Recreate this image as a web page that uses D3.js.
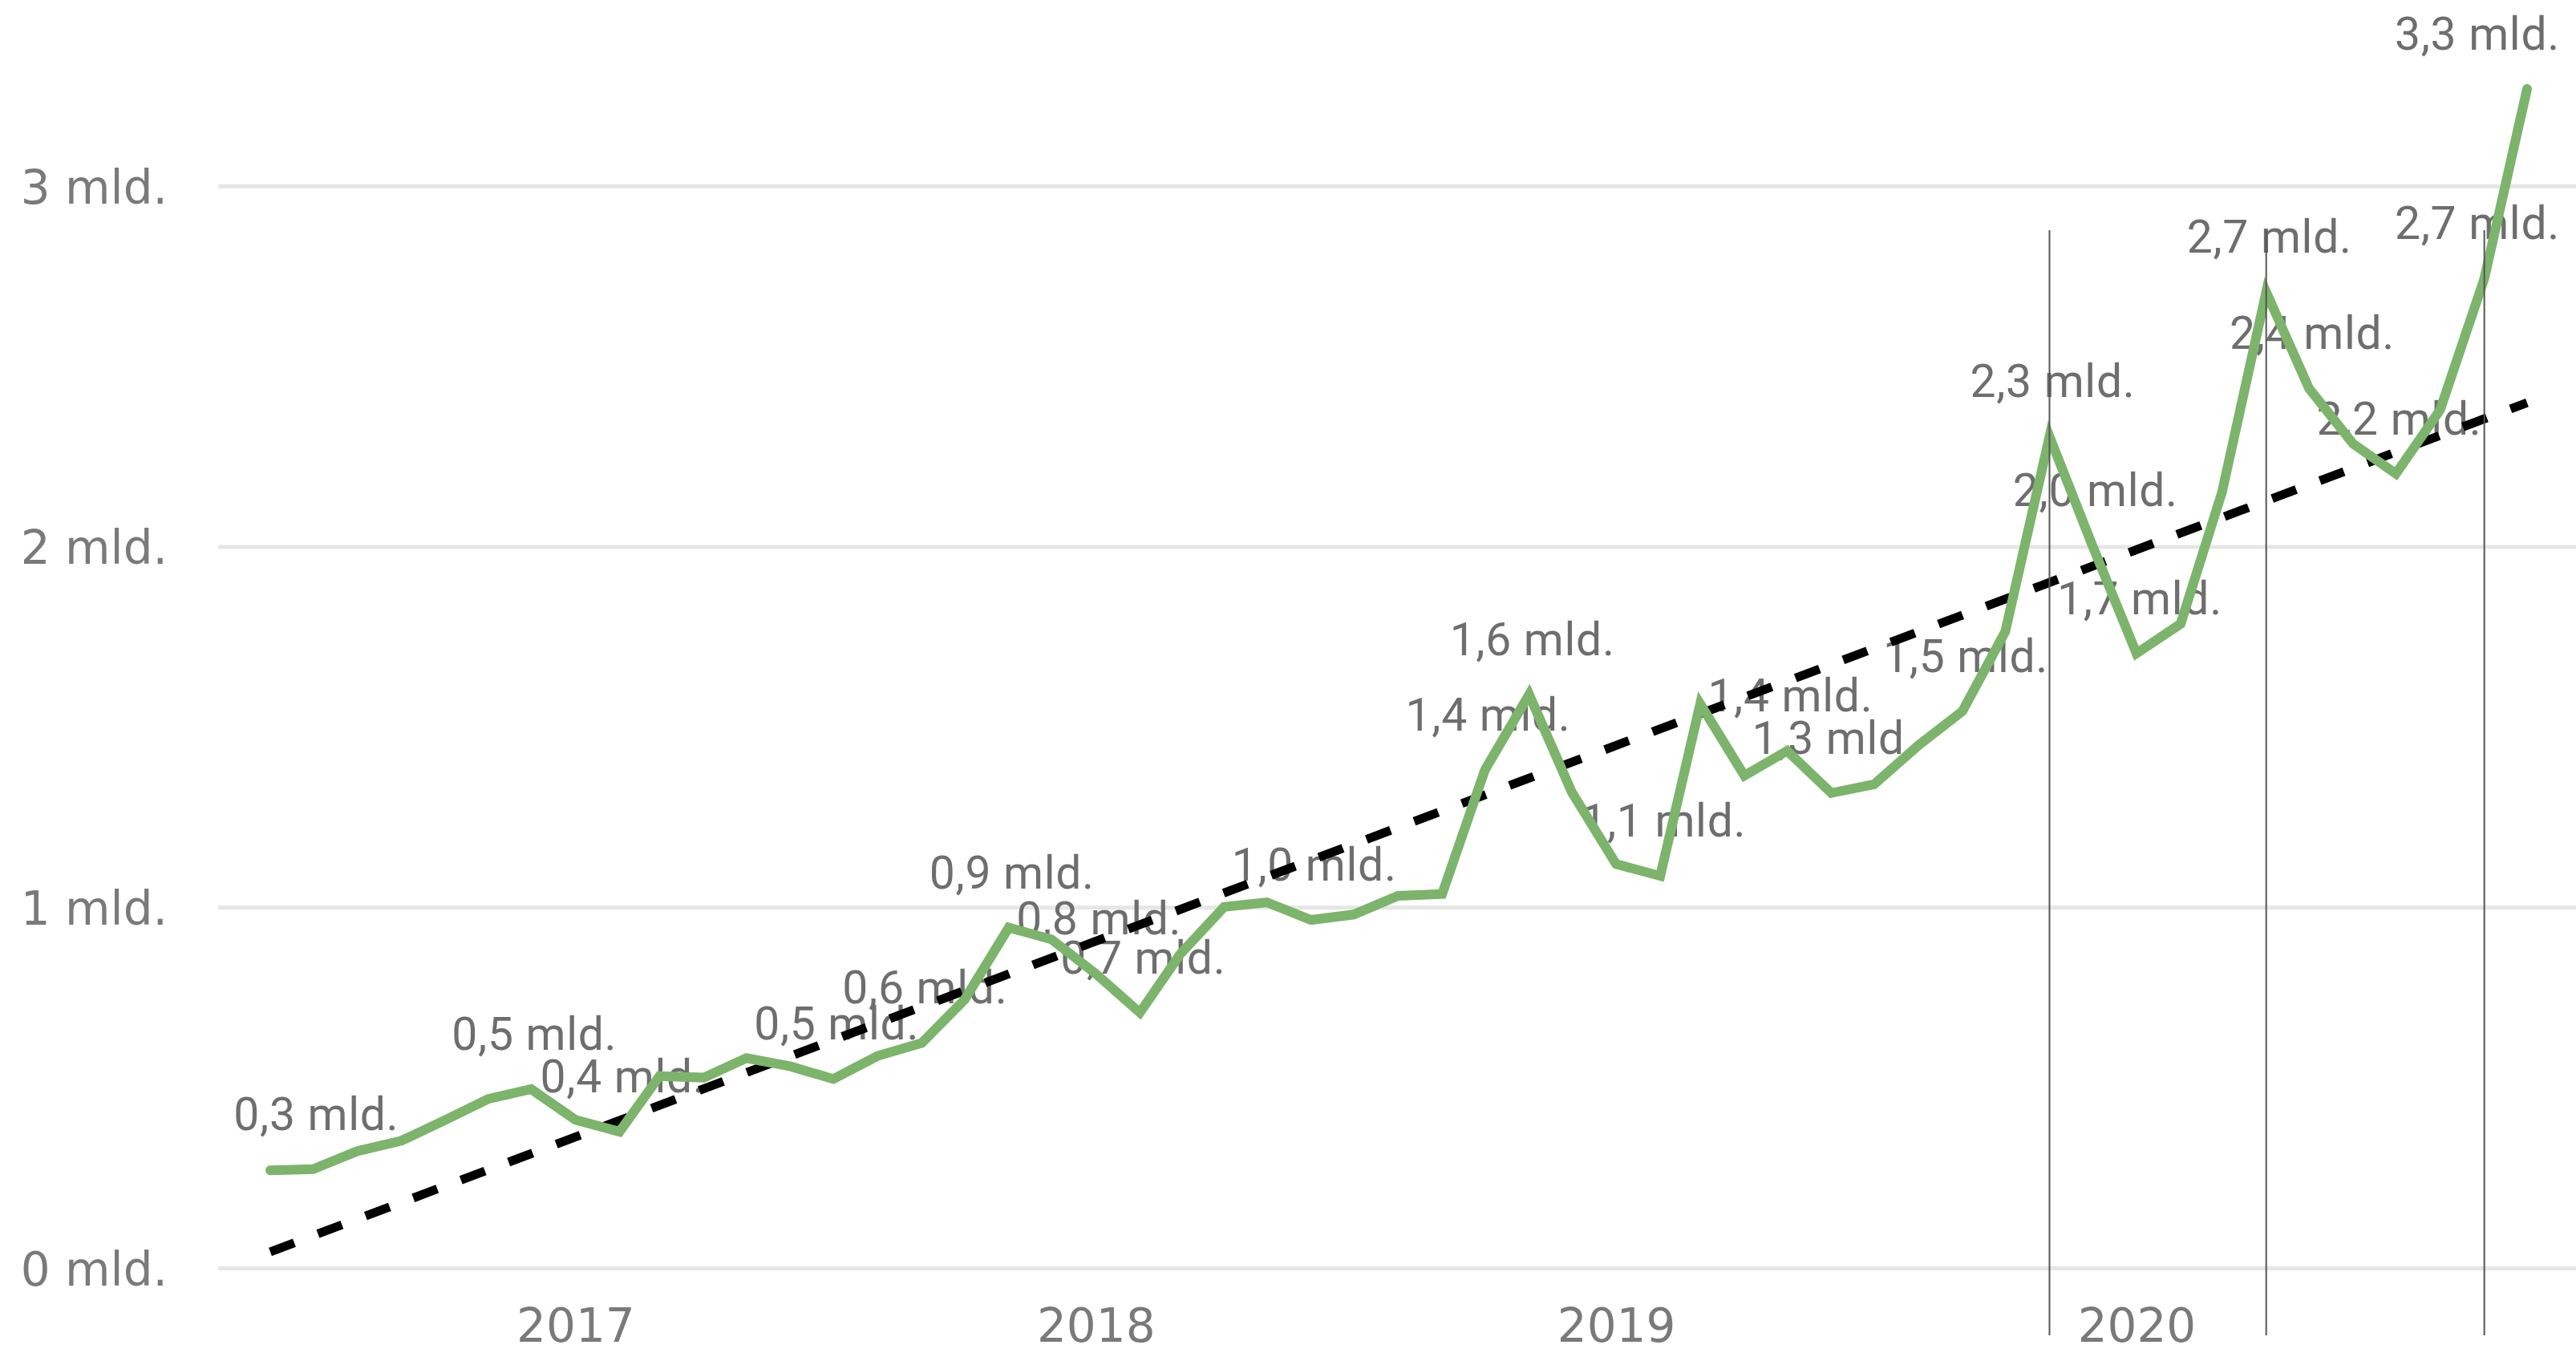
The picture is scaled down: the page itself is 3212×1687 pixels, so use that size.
<!DOCTYPE html>
<html><head><meta charset="utf-8">
<script src="https://cdn.jsdelivr.net/npm/d3@7"></script>
<style>html,body{margin:0;padding:0;background:#fff;} svg{display:block}</style>
</head><body>
<svg id="chart" width="3212" height="1687"></svg>
<script>
// ---- data (monthly, first month June 2016) ----
const startYear = 2016, startMonthIndex = 5;
const values = [
  0.272, 0.275, 0.325, 0.354, 0.41, 0.47, 0.497, 0.412, 0.379, 0.533,
  0.529, 0.583, 0.56, 0.525, 0.589, 0.625, 0.745, 0.945, 0.912, 0.817,
  0.709, 0.87, 1.002, 1.015, 0.966, 0.981, 1.033, 1.038, 1.382, 1.591,
  1.32, 1.121, 1.088, 1.565, 1.366, 1.435, 1.318, 1.342, 1.45, 1.545,
  1.766, 2.306, 2.005, 1.705, 1.787, 2.152, 2.707, 2.44, 2.286, 2.203,
  2.38, 2.744, 3.27
];
const labelIndices = [1, 6, 8, 13, 15, 17, 19, 20, 24, 28, 29, 32, 35, 36, 39, 41, 42, 43, 46, 47, 49, 51, 52];
const markerIndices = [41, 46, 51];
const trendValues = [0.046, 2.40];
const yTicks = [0, 1, 2, 3];
const yTickLabels = ["0 mld.", "1 mld.", "2 mld.", "3 mld."];
const xTickYears = [2017, 2018, 2019, 2020];

// ---- layout ----
const svg = d3.select("#chart");
const months = values.map((v, i) => new Date(startYear, startMonthIndex + i, 1));
const x = d3.scaleTime().domain([months[0], months[months.length - 1]]).range([337, 3151]);
const y = d3.scaleLinear().domain([0, 3]).range([1581.5, 232.3]);
const fmt = d3.formatLocale({decimal: ",", thousands: " ", grouping: [3], currency: ["", ""]}).format(".1f");

// gridlines
svg.append("g").selectAll("line").data(yTicks).join("line")
  .attr("x1", 272).attr("x2", 3212)
  .attr("y1", d => y(d)).attr("y2", d => y(d))
  .attr("stroke", "#e6e6e6").attr("stroke-width", 5);

// y axis
const yAxis = svg.append("g").attr("transform", "translate(209,0)")
  .call(d3.axisLeft(y).tickValues(yTicks).tickFormat((d, i) => yTickLabels[i]).tickSize(0).tickPadding(0));
yAxis.select(".domain").remove();
yAxis.selectAll("text").attr("font-family", "DejaVu Sans").attr("font-size", 58)
  .attr("fill", "#7a7a7a").attr("dy", "0.36em");

// x axis
const xAxis = svg.append("g").attr("transform", "translate(0,1673)")
  .call(d3.axisBottom(x).tickValues(xTickYears.map(yr => new Date(yr, 0, 1))).tickFormat(d3.timeFormat("%Y")).tickSize(0));
xAxis.select(".domain").remove();
xAxis.selectAll("text").attr("font-family", "DejaVu Sans").attr("font-size", 58)
  .attr("fill", "#7a7a7a").attr("y", 0).attr("dy", 0);

// data labels (under the lines)
const lbl = svg.append("g").selectAll("text").data(labelIndices).join("text")
  .attr("font-family", "Roboto").attr("font-size", 57).attr("letter-spacing", 0.7)
  .attr("fill", "#6e6e6e").attr("text-anchor", "middle")
  .attr("y", i => y(values[i]) - 49)
  .text(i => fmt(values[i]) + " mld.");
lbl.each(function(i) {
  const w = this.getComputedTextLength();
  let cx = x(months[i]) + 4;
  if (cx + w / 2 > 3192) cx = 3192 - w / 2;
  d3.select(this).attr("x", cx);
});

// trend line
const trendData = [{d: months[0], v: trendValues[0]}, {d: months[months.length - 1], v: trendValues[1]}];
svg.append("path").datum(trendData)
  .attr("d", d3.line().x(p => x(p.d)).y(p => y(p.v)))
  .attr("fill", "none").attr("stroke", "#000").attr("stroke-width", 11)
  .attr("stroke-dasharray", "32 31.5");

// main line
svg.append("path").datum(values)
  .attr("d", d3.line().x((v, i) => x(months[i])).y(v => y(v)))
  .attr("fill", "none").attr("stroke", "#7cb46b").attr("stroke-width", 12)
  .attr("stroke-linejoin", "miter").attr("stroke-linecap", "round");

// vertical marker lines
svg.append("g").selectAll("line").data(markerIndices).join("line")
  .attr("x1", i => x(months[i])).attr("x2", i => x(months[i]))
  .attr("y1", 287).attr("y2", 1665)
  .attr("stroke", "#555").attr("stroke-width", 2);
</script>
</body></html>
